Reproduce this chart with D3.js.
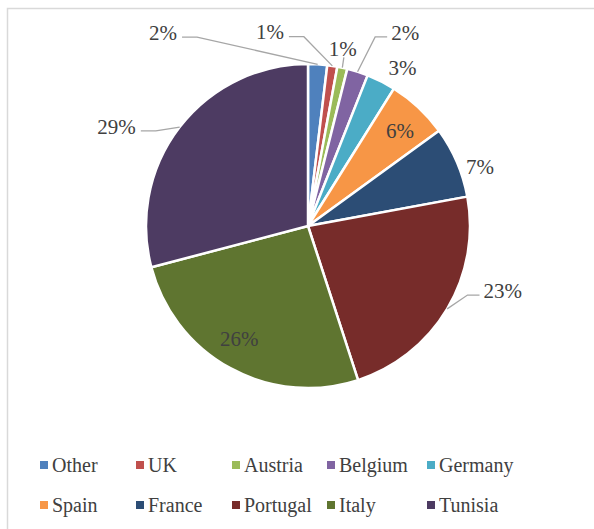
<!DOCTYPE html>
<html>
<head>
<meta charset="utf-8">
<script src="https://cdn.jsdelivr.net/npm/d3@7"></script>
<style>
  html, body { margin: 0; padding: 0; background: #ffffff; }
  svg { display: block; }
</style>
</head>
<body>
<div id="chart"></div>
<script>
// ---- Data ----
const categories = ["Other", "UK", "Austria", "Belgium", "Germany", "Spain", "France", "Portugal", "Italy", "Tunisia"];
const shares = [1.9, 1.0, 1.0, 2.1, 2.9, 6.1, 7.1, 22.9, 25.9, 29.1];
const labels = ["2%", "1%", "1%", "2%", "3%", "6%", "7%", "23%", "26%", "29%"];
const colors = ["#4F81BD", "#C0504D", "#9BBB59", "#8064A2", "#4BACC6", "#F79646", "#2C4D75", "#772C2A", "#5F7530", "#4D3B62"];

// ---- Layout ----
const W = 594, H = 529;
const cx = 308, cy = 226, R = 162;
const fontFam = "'Liberation Serif', 'DejaVu Serif', serif";
const textColor = "#404040";

// label placement: polar (deg clockwise from 12 o'clock, radius) of the text centre, and leader type
const labelLayout = {
  Other:    { ang: -36.8, r: 242, leader: "left" },
  UK:       { ang: -11.1, r: 198, leader: "left" },
  Austria:  { ang: 11.1,  r: 181, leader: "up" },
  Belgium:  { ang: 26.6,  r: 217, leader: "right" },
  Germany:  { ang: 30.7,  r: 185, leader: null },
  Spain:    { ang: 43.8,  r: 133, leader: null },
  France:   { ang: 70.8,  r: 182, leader: null },
  Portugal: { ang: 108.2, r: 205, leader: "right" },
  Italy:    { ang: 211.4, r: 132, leader: null },
  Tunisia:  { ang: 297.6, r: 216, leader: "left" }
};

const legendColX = [40, 136, 232, 327, 427];
const legendRowY = [465, 505];

const svg = d3.select("#chart").append("svg")
  .attr("width", W).attr("height", H);

// frame
svg.append("rect")
  .attr("x", 7.5).attr("y", 8.5)
  .attr("width", W + 20).attr("height", H + 20)
  .attr("fill", "none").attr("stroke", "#d9d9d9").attr("stroke-width", 1.5);

const data = categories.map((c, i) => ({ cat: c, value: shares[i], label: labels[i], color: colors[i] }));

const pie = d3.pie().value(d => d.value).sort(null);
const arcs = pie(data);
const arc = d3.arc().innerRadius(0).outerRadius(R);

const g = svg.append("g").attr("transform", `translate(${cx},${cy})`);

g.selectAll("path.slice")
  .data(arcs)
  .join("path")
  .attr("class", "slice")
  .attr("d", arc)
  .attr("fill", d => d.data.color)
  .attr("stroke", "#ffffff")
  .attr("stroke-width", 2.5)
  .attr("stroke-linejoin", "round");

// labels
const rad = a => a * Math.PI / 180;
const labelG = g.append("g");
arcs.forEach(a => {
  const L = labelLayout[a.data.cat];
  const tx = L.r * Math.sin(rad(L.ang));
  const ty = -L.r * Math.cos(rad(L.ang));
  const t = labelG.append("text")
    .attr("x", tx).attr("y", ty)
    .attr("dy", "0.36em")
    .attr("text-anchor", "middle")
    .attr("font-family", fontFam)
    .attr("font-size", 21)
    .attr("fill", textColor)
    .text(a.data.label);
  if (L.leader) {
    const mid = (a.startAngle + a.endAngle) / 2;
    const px = R * Math.sin(mid), py = -R * Math.cos(mid);
    const bb = t.node().getBBox();
    let pts;
    if (L.leader === "left") {
      const ly = ty + 5;
      const ex = bb.x + bb.width + 5;
      pts = [[ex, ly], [ex + 15, ly], [px, py]];
    } else if (L.leader === "right") {
      const ly = ty + 5;
      const ex = bb.x - 4;
      pts = [[ex, ly], [ex - 12, ly], [px, py]];
    } else {
      pts = [[tx + 1, ty + 9], [px, py]];
    }
    labelG.insert("path", "text")
      .attr("d", d3.line()(pts))
      .attr("fill", "none")
      .attr("stroke", "#a6a6a6")
      .attr("stroke-width", 1.3);
  }
});

// legend
const leg = svg.append("g");
data.forEach((d, i) => {
  const col = i % 5, row = Math.floor(i / 5);
  const x = legendColX[col], y = legendRowY[row];
  leg.append("rect")
    .attr("x", x).attr("y", y - 4)
    .attr("width", 8).attr("height", 8)
    .attr("fill", d.color);
  leg.append("text")
    .attr("x", x + 12).attr("y", y)
    .attr("dy", "0.35em")
    .attr("font-family", fontFam)
    .attr("font-size", 20)
    .attr("fill", textColor)
    .text(d.cat);
});
</script>
</body>
</html>
